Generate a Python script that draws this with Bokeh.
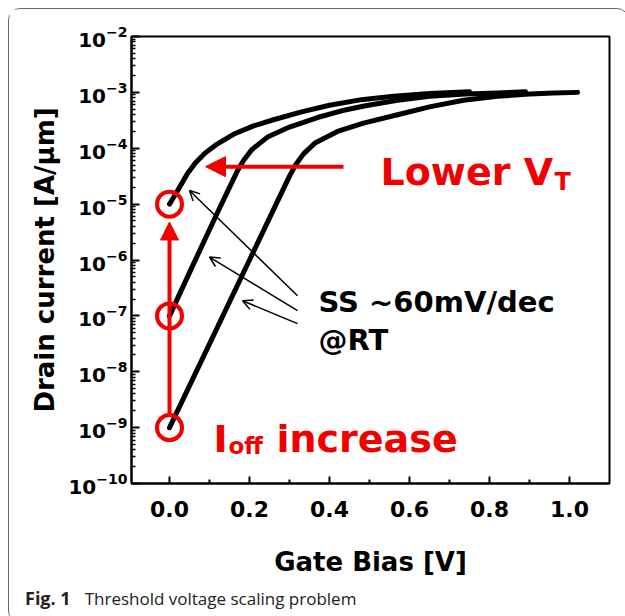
import math
from bokeh.plotting import figure
from bokeh.layouts import column
from bokeh.models import (Range1d, FixedTicker, Label, Arrow, NormalHead, OpenHead,
                          NumeralTickFormatter, Div)
from bokeh.embed import file_html
from bokeh.resources import INLINE

# ---------------- data ----------------
vg_a = [0.000, 0.010, 0.025, 0.045, 0.065, 0.090, 0.120, 0.160, 0.210, 0.260,
        0.330, 0.400, 0.480, 0.560, 0.650, 0.750]
log_id_a = [-5.00, -4.88, -4.70, -4.45, -4.26, -4.08, -3.92, -3.75, -3.60, -3.49,
            -3.35, -3.23, -3.13, -3.07, -3.02, -2.99]

vg_b = [0.000, 0.060, 0.120, 0.150, 0.170, 0.185, 0.205, 0.245, 0.300, 0.370,
        0.430, 0.490, 0.570, 0.650, 0.740, 0.820, 0.890]
log_id_b = [-7.00, -6.07, -5.15, -4.70, -4.40, -4.22, -4.03, -3.80, -3.62, -3.45,
            -3.33, -3.24, -3.14, -3.07, -3.03, -3.01, -2.99]

vg_c = [0.000, 0.100, 0.200, 0.280, 0.300, 0.315, 0.335, 0.365, 0.420, 0.485,
        0.570, 0.650, 0.735, 0.820, 0.900, 0.960, 1.020]
log_id_c = [-9.00, -7.50, -6.00, -4.80, -4.50, -4.30, -4.10, -3.90, -3.70, -3.55,
            -3.40, -3.26, -3.14, -3.07, -3.03, -3.01, -3.00]

ioff_vg = [0.0, 0.0, 0.0]
ioff_id = [1e-9, 1e-7, 1e-5]

x_tick_values = [0.0, 0.2, 0.4, 0.6, 0.8, 1.0]
x_minor_values = [0.1, 0.3, 0.5, 0.7, 0.9]
y_tick_exponents = [-2, -3, -4, -5, -6, -7, -8, -9, -10]

x_label = "Gate Bias [V]"
y_label = "Drain current [A/\u03bcm]"
caption_bold = "Fig. 1"
caption_text = "Threshold voltage scaling problem"

# ---------------- layout (page pixels) ----------------
LEFT, RIGHT, TOP, BOTTOM = 131, 609, 36, 486
FIG_W, FIG_H = 609, 570
X0, X1 = -0.095, 1.1
Y0, Y1 = 1e-10, 1e-2
PX_PER_V = (RIGHT - LEFT) / (X1 - X0)
PX_PER_DEC = (BOTTOM - TOP) / (math.log10(Y1) - math.log10(Y0))


def px_x(px):
    return X0 + (px - LEFT) / PX_PER_V


def px_y(py):
    return 10 ** (math.log10(Y1) - (py - TOP) / PX_PER_DEC)


def shift_y(y, dpx):  # move a data y up by dpx screen pixels
    return y * 10 ** (dpx / PX_PER_DEC)


RED = "#f20000"
FONT = "DejaVu Sans"

p = figure(width=FIG_W, height=FIG_H, x_range=Range1d(X0, X1), y_range=Range1d(Y0, Y1),
           y_axis_type="log", output_backend="svg", toolbar_location=None,
           min_border_left=122, min_border_right=FIG_W - 122 - (RIGHT - LEFT),
           min_border_top=27, min_border_bottom=FIG_H - 27 - (BOTTOM - TOP))
p.background_fill_color = "white"
p.border_fill_color = "white"
p.outline_line_color = "black"
p.outline_line_width = 2
p.grid.visible = False

# x axis
p.xaxis.ticker = FixedTicker(ticks=x_tick_values, minor_ticks=x_minor_values)
p.xaxis.formatter = NumeralTickFormatter(format="0.0")
p.xaxis.axis_line_width = 2
p.xaxis.major_tick_in = 7
p.xaxis.major_tick_out = 0
p.xaxis.minor_tick_in = 4
p.xaxis.minor_tick_out = 0
p.xaxis.major_tick_line_width = 2
p.xaxis.minor_tick_line_width = 2
p.xaxis.major_label_text_font = FONT
p.xaxis.major_label_text_font_style = "bold"
p.xaxis.major_label_text_font_size = "22px"
p.xaxis.major_label_text_color = "black"
p.xaxis.major_label_standoff = 17
p.xaxis.axis_label = x_label
p.xaxis.axis_label_text_font = FONT
p.xaxis.axis_label_text_font_style = "bold"
p.xaxis.axis_label_text_font_size = "26px"
p.xaxis.axis_label_text_color = "black"
p.xaxis.axis_label_standoff = 27

# y axis
y_major = [10.0 ** e for e in y_tick_exponents]
y_minor = [k * 10.0 ** e for e in range(-10, -2) for k in range(2, 10)]
p.yaxis.ticker = FixedTicker(ticks=y_major, minor_ticks=y_minor)
p.yaxis.axis_line_width = 2
p.yaxis.major_tick_in = 8
p.yaxis.major_tick_out = 0
p.yaxis.minor_tick_in = 4
p.yaxis.minor_tick_out = 0
p.yaxis.major_tick_line_width = 2
p.yaxis.minor_tick_line_width = 1.5
p.yaxis.major_label_text_font = FONT
p.yaxis.major_label_text_font_style = "bold"
p.yaxis.major_label_text_font_size = "20px"
p.yaxis.major_label_text_color = "black"
p.yaxis.major_label_standoff = 4
p.yaxis.axis_label = y_label
p.yaxis.axis_label_text_font = FONT
p.yaxis.axis_label_text_font_style = "bold"
p.yaxis.axis_label_text_font_size = "26px"
p.yaxis.axis_label_text_color = "black"
p.yaxis.axis_label_standoff = 5

# curves
for vg, lid in ((vg_a, log_id_a), (vg_b, log_id_b), (vg_c, log_id_c)):
    p.line(vg, [10 ** v for v in lid], line_color="black", line_width=5,
           line_cap="round", line_join="round")

# red vertical arrow (I_off increase)
p.add_layout(Arrow(end=NormalHead(size=18, fill_color=RED, line_color=RED),
                   x_start=ioff_vg[0], y_start=shift_y(ioff_id[0], 13),
                   x_end=ioff_vg[2], y_end=shift_y(ioff_id[2], -18),
                   line_color=RED, line_width=4))

# red circles
p.scatter(ioff_vg, ioff_id, marker="circle", size=25, fill_color=None,
          line_color=RED, line_width=4)

# red horizontal arrow (lower VT)
p.add_layout(Arrow(end=NormalHead(size=20, fill_color=RED, line_color=RED),
                   x_start=px_x(343), y_start=px_y(167),
                   x_end=px_x(205), y_end=px_y(167),
                   line_color=RED, line_width=4))

# black thin arrows (SS)
for (tx, ty), (hx, hy) in (((297, 297), (189, 191)),
                           ((297, 312), (209, 258)),
                           ((297, 325), (242, 302))):
    p.add_layout(Arrow(end=OpenHead(size=10, line_color="black", line_width=1.5),
                       x_start=px_x(tx), y_start=px_y(ty),
                       x_end=px_x(hx), y_end=px_y(hy),
                       line_color="black", line_width=1.5))


def txt(x, y, s, size, color="black", style="bold", font=FONT, align="left",
        baseline="alphabetic"):
    p.add_layout(Label(x=x, y=y, text=s, text_font=font, text_font_style=style,
                       text_font_size=size, text_color=color, text_align=align,
                       text_baseline=baseline))


txt(px_x(380), px_y(172), "Lower V", "38px", color=RED)
txt(px_x(554), px_y(182), "T", "24px", color=RED)
txt(px_x(213), px_y(441), "I", "38px", color=RED)
txt(px_x(228), px_y(448), "off", "23px", color=RED)
txt(px_x(276), px_y(441), "increase", "38px", color=RED)
txt(px_x(318), px_y(303), "SS ~60mV/dec", "29px")
txt(px_x(318), px_y(342), "@RT", "29px")

caption = Div(text=(f'<b style="font-size:18px">{caption_bold}</b>'
                    f'<span style="margin-left:14px">{caption_text}</span>'),
              width=FIG_W, height=33,
              styles={"font-family": "Open Sans", "font-size": "17px", "color": "#222",
                      "padding-left": "11px", "padding-top": "3px", "line-height": "22px"})

page = column(p, caption, spacing=0, margin=(8, 0, 0, 8),
              styles={"border": "1.5px solid #6a6a6a", "border-radius": "12px",
                      "background-color": "white"})

open("out.html", "w").write(file_html(page, INLINE))
